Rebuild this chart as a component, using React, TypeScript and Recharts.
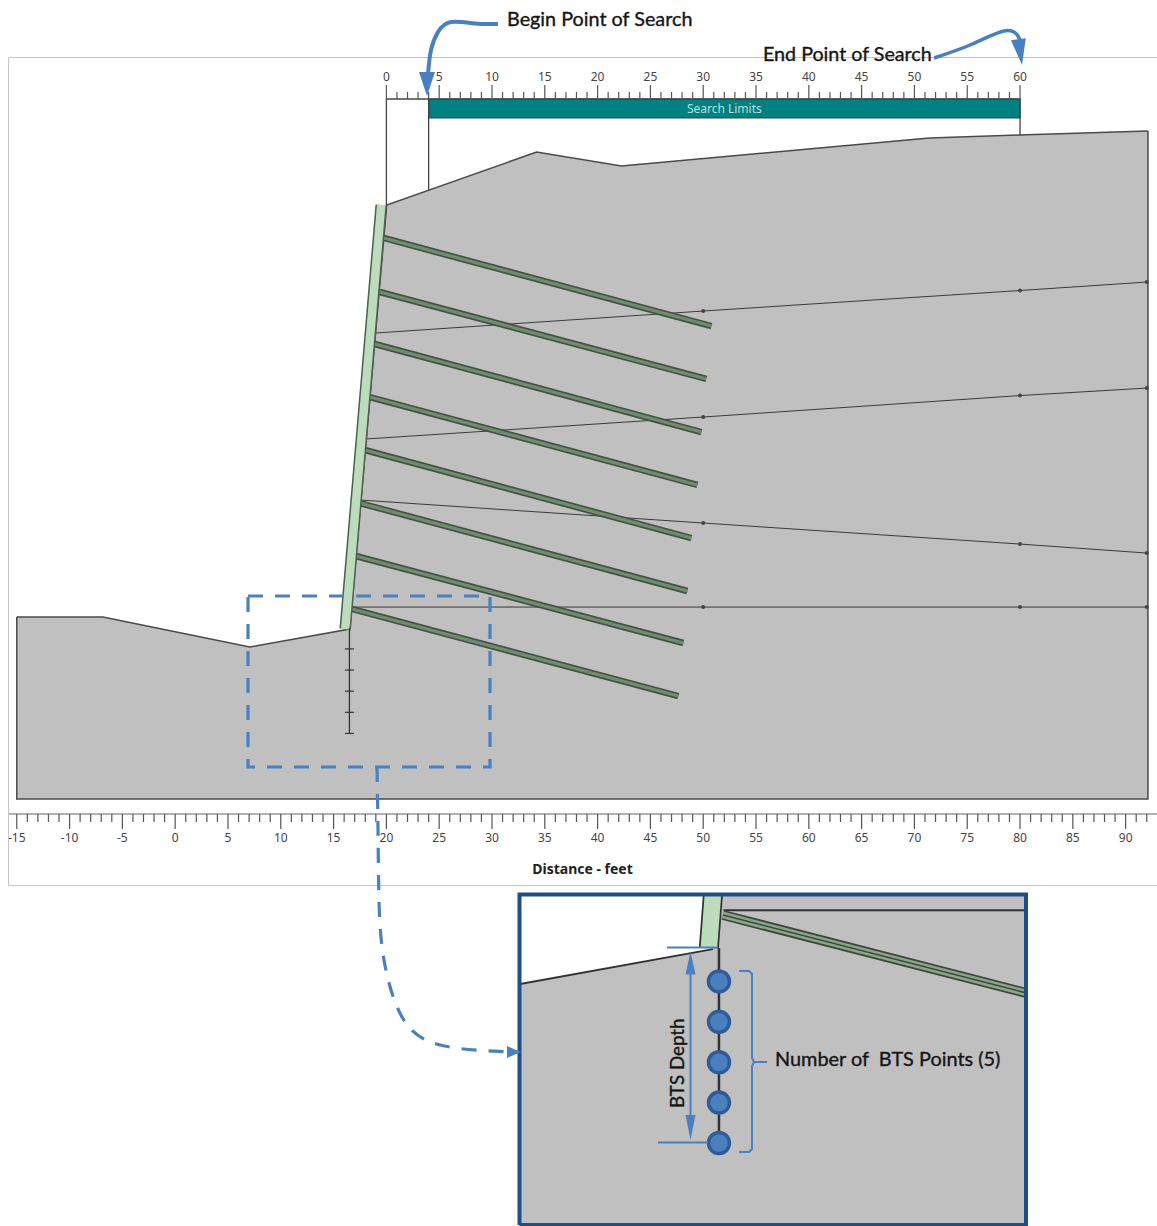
import { Area, ComposedChart, Line, ReferenceArea, Scatter, XAxis, YAxis } from 'recharts'

// model section, all in feet (distance, elevation)
const groundSurface = [
  { x: -15, y: 17.22 },
  { x: -6.84, y: 17.22 },
  { x: 7.07, y: 14.38 },
  { x: 16.53, y: 16.08 },
  { x: 20.03, y: 56.2 },
  { x: 34.22, y: 61.21 },
  { x: 42.26, y: 59.89 },
  { x: 71.41, y: 62.54 },
  { x: 79.9, y: 62.82 },
  { x: 92.11, y: 63.2 },
]
const modelEdge = [
  { x: -15, y: 17.22 },
  { x: -15, y: 0 },
  { x: 92.11, y: 0 },
  { x: 92.11, y: 63.2 },
]
const wallLine = [
  { x: 19.51, y: 56.2 },
  { x: 16.1, y: 16.08 },
]
const soilLayers = [
  [{ x: 19, y: 44.09 }, { x: 50, y: 46.17 }, { x: 80, y: 48.11 }, { x: 92, y: 48.91 }],
  [{ x: 18.04, y: 34.06 }, { x: 50, y: 36.14 }, { x: 80, y: 38.17 }, { x: 92, y: 38.88 }],
  [{ x: 17.47, y: 28.29 }, { x: 50, y: 26.11 }, { x: 80, y: 24.12 }, { x: 92, y: 23.27 }],
  [{ x: 16.81, y: 18.16 }, { x: 50, y: 18.16 }, { x: 80, y: 18.16 }, { x: 92, y: 18.16 }],
]
const soilNodes = soilLayers.flatMap((layer) => layer.slice(1))
const nails = [
  [{ x: 19.74, y: 53.08 }, { x: 50.78, y: 44.75 }],
  [{ x: 19.37, y: 47.97 }, { x: 50.3, y: 39.74 }],
  [{ x: 18.89, y: 43.05 }, { x: 49.83, y: 34.72 }],
  [{ x: 18.42, y: 38.03 }, { x: 49.45, y: 29.71 }],
  [{ x: 17.95, y: 33.02 }, { x: 48.88, y: 24.69 }],
  [{ x: 17.47, y: 28.0 }, { x: 48.5, y: 19.68 }],
  [{ x: 17.1, y: 22.99 }, { x: 48.12, y: 14.76 }],
  [{ x: 16.72, y: 17.98 }, { x: 47.65, y: 9.74 }],
]
const btsLine = [
  { x: 16.5, y: 16.2 },
  { x: 16.5, y: 6.2 },
]
const btsPoints = [
  { x: 16.5, y: 14.2 },
  { x: 16.5, y: 12.2 },
  { x: 16.5, y: 10.2 },
  { x: 16.5, y: 8.2 },
  { x: 16.5, y: 6.2 },
]

// search limits, read on the top ruler
const searchBegin = 4
const searchEnd = 60
const searchLimitLines = [
  [{ x: 0, y: 66.23 }, { x: 0, y: 56.2 }],
  [{ x: searchBegin, y: 66.23 }, { x: searchBegin, y: 57.6 }],
  [{ x: searchEnd, y: 66.23 }, { x: searchEnd, y: 62.82 }],
]
const topRulerLine = [
  { x: 0, y: 66.23 },
  { x: searchEnd, y: 66.23 },
]

const bottomTicks = Array.from({ length: 108 }, (_, i) => i - 15)
const topTicks = Array.from({ length: 61 }, (_, i) => i)

// the zoomed detail below the section, also in feet
const insetSurface = [
  { x: 6.65, y: 14.07 },
  { x: 16.2, y: 15.8 },
  { x: 16.45, y: 15.85 },
  { x: 16.65, y: 18.48 },
  { x: 31.75, y: 18.48 },
]
const insetGround = insetSurface.slice(0, 2)
const insetWall = [
  { x: 16.2, y: 18.48 },
  { x: 16.0, y: 15.85 },
]
const insetLayer = [
  { x: 16.72, y: 17.73 },
  { x: 31.75, y: 17.73 },
]
const insetNail = [
  { x: 16.7, y: 17.49 },
  { x: 31.75, y: 13.62 },
]
const insetBtsLine = [
  { x: 16.5, y: 15.85 },
  { x: 16.5, y: 6.2 },
]

// callouts sit on a page sized overlay, in page units
const frameLines = [
  [{ x: 8.5, y: 885.5 }, { x: 8.5, y: 57.5 }, { x: 1157, y: 57.5 }],
  [{ x: 8.5, y: 885.5 }, { x: 1157, y: 885.5 }],
]
const detailBox = [
  { x: 248, y: 596 },
  { x: 490, y: 596 },
  { x: 490, y: 767 },
  { x: 248, y: 767 },
  { x: 248, y: 596 },
]
const detailLink = [
  { x: 377, y: 767 },
  { x: 378, y: 830 },
  { x: 379, y: 900 },
  { x: 384, y: 960 },
  { x: 402, y: 1017 },
  { x: 440, y: 1045 },
  { x: 510, y: 1052 },
]
const beginCurve = [
  { x: 498, y: 24 },
  { x: 475, y: 23.5 },
  { x: 451, y: 22 },
  { x: 438, y: 32 },
  { x: 431, y: 50 },
  { x: 428, y: 74 },
]
const endCurve = [
  { x: 934, y: 58 },
  { x: 970, y: 45 },
  { x: 1004, y: 31 },
  { x: 1018, y: 36 },
  { x: 1021, y: 44 },
]
const insetBox = [
  { x: 519.5, y: 1225 },
  { x: 519.5, y: 894.5 },
  { x: 1026, y: 894.5 },
  { x: 1026, y: 1225 },
  { x: 519.5, y: 1225 },
]
const dimensionLines = [
  [{ x: 667, y: 947.5 }, { x: 718, y: 947.5 }],
  [{ x: 658, y: 1142.5 }, { x: 708, y: 1142.5 }],
  [{ x: 690.5, y: 960 }, { x: 690.5, y: 1125 }],
]
const bracketLines = [
  [{ x: 739, y: 971 }, { x: 749, y: 971 }, { x: 752, y: 974 }, { x: 752, y: 1058 }, { x: 754, y: 1062 }, { x: 752, y: 1066 }, { x: 752, y: 1149 }, { x: 749, y: 1152 }, { x: 739, y: 1152 }],
  [{ x: 754, y: 1062 }, { x: 767, y: 1062 }],
]
const arrowHeads = [
  { x: 427, y: 96, angle: 0, w: 16, l: 24 },
  { x: 1022, y: 65, angle: -8, w: 15, l: 26 },
  { x: 521, y: 1052, angle: -90, w: 12, l: 14 },
  { x: 690.5, y: 951.5, angle: 180, w: 10, l: 23 },
  { x: 690.5, y: 1140, angle: 0, w: 10, l: 25 },
]
const callouts = [
  { x: 507, y: 26, text: 'Begin Point of Search', rotate: 0, size: 19.8 },
  { x: 763, y: 61, text: 'End Point of Search', rotate: 0, size: 19.7 },
  { x: 775, y: 1066, text: 'Number of  BTS Points (5)', rotate: 0, size: 19.9 },
  { x: 684, y: 1108, text: 'BTS Depth', rotate: -90, size: 18.8 },
]

const BLUE = '#4a80c0'
const LINE_DARK = '#4a4a4a'
const SOIL = '#c0c0c0'
const TICK_FONT = '"Noto Sans", sans-serif'
const NOTE_FONT = 'Lato, sans-serif'

function BottomTick({ x, y, payload }: any) {
  const major = payload.value % 5 === 0
  return (
    <g>
      <line x1={x} x2={x} y1={y} y2={y + (major ? 15 : 8)} stroke="#555" strokeWidth={1.2} />
      {major && (
        <text x={x} y={y + 28} textAnchor="middle" fontSize={12} fill="#444" fontFamily={TICK_FONT}>
          {payload.value}
        </text>
      )}
    </g>
  )
}

function TopTick({ x, y, payload }: any) {
  const major = payload.value % 5 === 0
  return (
    <g>
      <line x1={x} x2={x} y1={y} y2={y - (major ? 14 : 7)} stroke="#555" strokeWidth={1.2} />
      {major && (
        <text x={x} y={y - 18} textAnchor="middle" fontSize={12} fill="#444" fontFamily={TICK_FONT}>
          {payload.value}
        </text>
      )}
    </g>
  )
}

function ArrowHead({ cx, cy, payload }: any) {
  const { w, l, angle } = payload
  return (
    <polygon
      points={`0,0 ${-w / 2},${-l} ${w / 2},${-l}`}
      transform={`translate(${cx} ${cy}) rotate(${angle})`}
      fill={BLUE}
    />
  )
}

function CalloutText({ cx, cy, payload }: any) {
  return (
    <text
      x={cx}
      y={cy}
      fontSize={payload.size}
      fill="#151515"
      stroke="#151515"
      strokeWidth={0.35}
      fontFamily={NOTE_FONT}
      xmlSpace="preserve"
      transform={payload.rotate ? `rotate(${payload.rotate} ${cx} ${cy})` : undefined}
    >
      {payload.text}
    </text>
  )
}

function plainLine(key: string | number, data: any[], stroke: string, width: number, extra: any = {}) {
  return (
    <Line
      key={key}
      data={data}
      dataKey="y"
      stroke={stroke}
      strokeWidth={width}
      dot={false}
      activeDot={false}
      legendType="none"
      isAnimationActive={false}
      {...extra}
    />
  )
}

export default function App() {
  return (
    <div style={{ position: 'absolute', left: 0, top: 0, width: 1157, height: 1226, overflow: 'hidden', background: '#fff' }}>
      <div style={{ position: 'absolute', left: 0, top: 0 }}>
        <ComposedChart width={1157} height={1226} margin={{ left: 8, right: 0, top: 57, bottom: 341 }}>
          <XAxis
            dataKey="x"
            type="number"
            orientation="bottom"
            domain={[-15.83, 92.97]}
            ticks={bottomTicks}
            interval={0}
            height={71}
            tickSize={0}
            tickMargin={0}
            tickLine={false}
            tick={BottomTick}
            axisLine={{ stroke: '#666', strokeWidth: 1.2 }}
            label={{
              value: 'Distance - feet',
              position: 'insideBottom',
              offset: 11,
              fontSize: 14,
              fontWeight: 700,
              fill: '#222',
              fontFamily: TICK_FONT,
            }}
          />
          <XAxis
            xAxisId="top"
            dataKey="x"
            type="number"
            orientation="top"
            domain={[-35.83, 72.97]}
            ticks={topTicks}
            interval={0}
            height={42}
            tickSize={0}
            tickMargin={0}
            tickLine={false}
            tick={TopTick}
            axisLine={false}
          />
          <YAxis dataKey="y" type="number" domain={[-1.42, 66.23]} hide />
          <Area
            data={groundSurface}
            dataKey="y"
            type="linear"
            baseValue={0}
            fill={SOIL}
            fillOpacity={1}
            stroke={LINE_DARK}
            strokeWidth={1.5}
            dot={false}
            activeDot={false}
            isAnimationActive={false}
          />
          {plainLine('edge', modelEdge, LINE_DARK, 1.5)}
          {soilLayers.map((layer, i) => plainLine(`layer${i}`, layer, '#3a3a3a', 1))}
          {nails.flatMap((nail, i) => [
            plainLine(`nailOuter${i}`, nail, '#435343', 6.5),
            plainLine(`nailInner${i}`, nail, '#728c74', 3.2),
          ])}
          {plainLine('wallOuter', wallLine, '#4e5e50', 11.5)}
          {plainLine('wallInner', wallLine, '#bcdcbc', 8.5)}
          {plainLine('bts', btsLine, '#333', 1.3)}
          <Scatter
            data={btsPoints}
            dataKey="y"
            isAnimationActive={false}
            shape={({ cx, cy }: any) => <line x1={cx - 4.5} x2={cx + 4.5} y1={cy} y2={cy} stroke="#333" strokeWidth={1.2} />}
          />
          <Scatter data={soilNodes} dataKey="y" fill="#333" isAnimationActive={false} shape={({ cx, cy }: any) => <circle cx={cx} cy={cy} r={2} fill="#444" />} />
          {searchLimitLines.map((seg, i) => plainLine(`limit${i}`, seg, '#444', 1.3, { xAxisId: 'top' }))}
          {plainLine('ruler', topRulerLine, '#444', 1.5, { xAxisId: 'top' })}
          <ReferenceArea
            xAxisId="top"
            x1={searchBegin}
            x2={searchEnd}
            y1={64.43}
            y2={66.23}
            fill="#008080"
            fillOpacity={1}
            stroke="#1c4f4f"
            strokeWidth={1.2}
            label={{ value: 'Search Limits', position: 'center', fill: '#b9e2dd', fontSize: 12, fontFamily: TICK_FONT }}
          />
        </ComposedChart>
      </div>

      <div style={{ position: 'absolute', left: 520, top: 895 }}>
        <ComposedChart width={507} height={331} margin={{ left: 0, right: 0, top: 0, bottom: 0 }}>
          <XAxis dataKey="x" type="number" domain={[6.65, 31.75]} hide />
          <YAxis dataKey="y" type="number" domain={[2.09, 18.48]} hide />
          <Area
            data={insetSurface}
            dataKey="y"
            type="linear"
            baseValue={2.09}
            fill={SOIL}
            fillOpacity={1}
            stroke="none"
            dot={false}
            activeDot={false}
            isAnimationActive={false}
          />
          {plainLine('ground', insetGround, '#333', 2)}
          {plainLine('layer', insetLayer, '#333', 2)}
          {plainLine('nailOuter', insetNail, '#3d483d', 10)}
          {plainLine('nailInner', insetNail, '#8aa58a', 6.5)}
          {plainLine('nailCore', insetNail, '#3d483d', 1.5)}
          {plainLine('wallOuter', insetWall, '#333', 20)}
          {plainLine('wallInner', insetWall, '#bcdcbc', 16.5)}
          {plainLine('bts', insetBtsLine, '#333', 2.5)}
          <Scatter
            data={btsPoints}
            dataKey="y"
            isAnimationActive={false}
            shape={({ cx, cy }: any) => <circle cx={cx} cy={cy} r={10.5} fill="#4a80c0" stroke="#2f5c96" strokeWidth={3.5} />}
          />
        </ComposedChart>
      </div>

      <div style={{ position: 'absolute', left: 0, top: 0 }}>
        <ComposedChart width={1157} height={1226} margin={{ left: 0, right: 0, top: 0, bottom: 0 }}>
          <XAxis dataKey="x" type="number" domain={[0, 1157]} hide />
          <YAxis dataKey="y" type="number" domain={[0, 1226]} reversed hide />
          {frameLines.map((seg, i) => plainLine(`frame${i}`, seg, '#c4c4c4', 1))}
          {plainLine('box', detailBox, BLUE, 3.2, { strokeDasharray: '15 12' })}
          {plainLine('link', detailLink, BLUE, 3.2, { strokeDasharray: '15 12', type: 'natural' })}
          {plainLine('begin', beginCurve, BLUE, 4, { type: 'natural' })}
          {plainLine('end', endCurve, BLUE, 3.5, { type: 'natural' })}
          {plainLine('inset', insetBox, '#1f4e85', 4)}
          {dimensionLines.map((seg, i) => plainLine(`dim${i}`, seg, BLUE, 2))}
          {bracketLines.map((seg, i) => plainLine(`bracket${i}`, seg, BLUE, 2))}
          <Scatter data={arrowHeads} dataKey="y" isAnimationActive={false} shape={ArrowHead} />
          <Scatter data={callouts} dataKey="y" isAnimationActive={false} shape={CalloutText} />
        </ComposedChart>
      </div>
    </div>
  )
}
